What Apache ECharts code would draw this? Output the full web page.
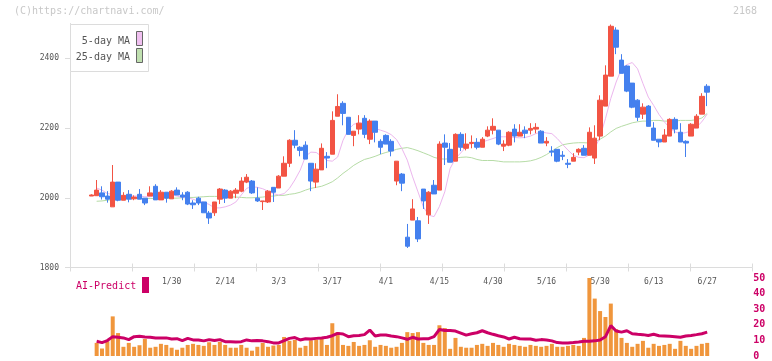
<!DOCTYPE html>
<html><head><meta charset="utf-8">
<script src="https://cdn.jsdelivr.net/npm/echarts@6/dist/echarts.min.js"></script>
<style>html,body{margin:0;padding:0;background:#fff}#c{width:772px;height:361px}</style>
</head><body><div id="c"></div>
<script>
const dates = ['1/8','1/9','1/10','1/14','1/15','1/16','1/17','1/20','1/21','1/22','1/23','1/24','1/27','1/28','1/29','1/30','1/31','2/3','2/4','2/5','2/6','2/7','2/10','2/12','2/13','2/14','2/17','2/18','2/19','2/20','2/21','2/25','2/26','2/27','2/28','3/3','3/4','3/5','3/6','3/7','3/10','3/11','3/12','3/13','3/14','3/17','3/18','3/19','3/21','3/24','3/25','3/26','3/27','3/28','3/31','4/1','4/2','4/3','4/4','4/7','4/8','4/9','4/10','4/11','4/14','4/15','4/16','4/17','4/18','4/21','4/22','4/23','4/24','4/25','4/28','4/30','5/1','5/2','5/7','5/8','5/9','5/12','5/13','5/14','5/15','5/16','5/19','5/20','5/21','5/22','5/23','5/26','5/27','5/28','5/29','5/30','6/2','6/3','6/4','6/5','6/6','6/9','6/10','6/11','6/12','6/13','6/16','6/17','6/18','6/19','6/20','6/23','6/24','6/25','6/26','6/27'];
const openP = [2005,2006,2014,2005,1974,2045,1993,2010,1997,2010,1999,2005,2033,1994,2016,1997,2022,2008,2016,1985,1999,1988,1956,1957,1996,2022,1999,2013,2019,2045,2048,1999,1989,1988,2030,2028,2062,2099,2165,2145,2151,2099,2045,2080,2119,2125,2234,2271,2231,2179,2197,2228,2168,2220,2162,2179,2162,2048,2068,1887,1936,1934,2025,1951,2036,2022,2157,2139,2105,2182,2142,2156,2159,2145,2177,2194,2194,2148,2151,2197,2177,2194,2194,2197,2191,2157,2134,2139,2122,2099,2105,2131,2142,2122,2114,2177,2263,2349,2481,2395,2378,2329,2280,2240,2263,2200,2168,2160,2177,2225,2188,2162,2177,2200,2240,2320];
const closeP = [2008,2022,2003,1996,2045,1993,2007,1996,2002,1996,1985,2014,1994,2016,1999,2019,2008,2002,1982,1980,1985,1957,1942,1988,2025,1999,2019,2022,2048,2059,2014,1991,1991,2019,2016,2062,2099,2165,2151,2136,2111,2048,2082,2142,2114,2222,2262,2242,2182,2191,2214,2182,2220,2188,2145,2154,2134,2105,2042,1861,1968,1882,1991,2016,2011,2154,2145,2102,2182,2145,2154,2159,2145,2168,2194,2205,2154,2154,2188,2177,2188,2185,2199,2202,2157,2162,2131,2105,2119,2096,2116,2139,2122,2188,2171,2280,2352,2492,2432,2357,2306,2260,2231,2260,2205,2165,2160,2180,2225,2197,2160,2157,2211,2234,2291,2303];
const lowP = [2005,2006,1995,1986,1974,1990,1993,1987,1993,1996,1979,2005,1994,1994,1986,1997,2008,1993,1979,1968,1979,1957,1925,1948,1982,1985,1999,1999,2016,2042,2011,1988,1965,1985,1988,2028,2062,2088,2142,2119,2111,2019,2028,2080,2085,2125,2234,2208,2182,2148,2182,2171,2154,2159,2125,2154,2119,2036,2019,1856,1936,1873,1968,1925,2011,2022,2094,2102,2105,2134,2136,2142,2139,2145,2174,2182,2151,2134,2148,2159,2177,2171,2182,2185,2157,2148,2119,2102,2108,2085,2105,2122,2122,2122,2097,2165,2263,2349,2412,2357,2303,2257,2220,2226,2205,2165,2145,2160,2177,2185,2160,2117,2177,2200,2240,2263];
const highP = [2010,2051,2033,2019,2094,2045,2016,2022,2007,2025,1999,2033,2039,2022,2016,2022,2030,2016,2019,1993,2003,1988,1962,1988,2028,2025,2022,2028,2059,2068,2051,2030,1991,2022,2030,2065,2119,2168,2194,2148,2162,2099,2099,2156,2131,2248,2297,2277,2231,2191,2237,2237,2225,2220,2168,2182,2168,2105,2071,1925,1996,1945,2025,2019,2051,2162,2182,2157,2185,2188,2185,2179,2171,2174,2205,2228,2194,2165,2191,2211,2211,2205,2214,2214,2194,2174,2148,2139,2134,2111,2128,2142,2151,2202,2208,2294,2380,2497,2489,2412,2380,2329,2283,2271,2266,2217,2168,2197,2228,2231,2214,2165,2214,2240,2300,2326];
const ma5 = [null,2028,2022,2012,2010,2008,2006,2005,2005,2005,2003,2003,2005,2008,2008,2008,2005,2001,2000,1996,1990,1987,1981,1971,1971,1974,1979,1988,2008,2027,2032,2030,2026,2019,2012,2008,2012,2027,2051,2079,2119,2131,2130,2119,2107,2105,2117,2165,2196,2211,2215,2214,2210,2199,2194,2189,2181,2167,2141,2108,2060,2017,1974,1950,1946,1975,2017,2084,2113,2129,2146,2156,2159,2160,2165,2170,2175,2175,2175,2173,2172,2173,2177,2184,2189,2186,2184,2170,2153,2137,2122,2116,2115,2123,2141,2175,2227,2285,2332,2370,2382,2388,2370,2328,2289,2265,2239,2218,2200,2189,2184,2187,2192,2203,2218,2240];
const ma25 = [null,1990,1991,1993,1995,1996,1997,1998,1998,1998,1998,1998,1998,1999,1999,1999,1999,2000,2001,2001,2002,2003,2004,2004,2004,2003,2003,2002,2001,2000,2000,2001,2002,2004,2005,2007,2007,2010,2012,2016,2022,2027,2030,2033,2039,2046,2057,2070,2081,2093,2102,2110,2114,2119,2125,2130,2134,2139,2142,2144,2140,2135,2129,2123,2116,2112,2111,2112,2114,2116,2117,2115,2110,2107,2107,2107,2105,2103,2103,2103,2103,2104,2106,2110,2116,2124,2134,2144,2152,2155,2157,2158,2158,2157,2161,2168,2177,2189,2199,2205,2210,2215,2218,2220,2220,2222,2222,2220,2220,2220,2222,2222,2222,2224,2229,2242];
const volume = [null,8.4,4.8,9.5,25.4,14.7,5.9,8.4,5.9,6.9,10.9,5.3,5.9,7.8,7.1,5.3,4.0,5.3,7.1,7.8,7.1,6.5,8.8,7.1,9.0,7.1,5.3,5.3,7.1,5.3,3.4,5.9,8.4,5.9,6.7,7.1,12.2,9.7,10.3,5.3,6.5,10.1,10.5,10.9,7.1,21.0,15.3,7.1,6.5,9.0,6.5,7.1,10.1,5.9,7.1,6.5,5.3,5.9,8.4,15.3,14.7,15.3,8.4,7.1,7.1,19.7,17.9,4.6,11.6,5.9,5.3,5.3,7.1,7.8,6.5,8.4,7.1,5.9,7.8,7.1,6.5,5.9,7.1,6.5,5.9,6.5,7.8,5.9,5.9,6.5,7.1,6.5,11.6,50,36.8,28.8,25.0,33.6,17.2,11.6,8.4,5.9,7.8,9.7,5.3,7.8,6.5,7.1,7.8,4.6,9.7,6.5,4.6,6.5,7.8,8.4];
const aiPredict = [null,9.5,8.6,9.9,12.4,12.0,11.6,10.5,12.4,12.6,12.2,12.0,11.6,11.6,11.6,10.9,11.1,9.9,11.3,10.3,10.3,9.7,10.5,9.9,10.5,9.2,9.2,9.0,9.2,10.3,9.7,9.9,9.7,9.2,8.4,8.4,9.9,11.3,11.8,10.3,11.1,10.9,11.3,11.6,12.0,13.0,14.5,14.1,12.4,13.0,13.2,13.7,16.6,12.8,13.4,13.4,12.8,12.4,11.6,10.7,12.0,10.9,11.1,11.1,12.4,17.0,16.4,16.4,16.0,14.7,13.4,14.3,14.9,16.2,14.9,13.9,13.0,12.2,10.9,12.0,11.1,10.9,10.9,10.1,10.5,10.3,9.7,8.6,8.4,8.4,8.6,9.0,9.5,9.5,9.7,10.3,12.4,19.5,16.0,15.3,16.2,14.3,13.9,13.7,13.2,13.9,13.0,12.8,12.6,12.4,12.0,12.8,13.2,13.7,14.3,15.3];
const priceTicks = [1800,2000,2200,2400];
const volumeTicks = [0,10,20,30,40,50];
const labelStart = 15, labelStep = 10;

const MONO = '"DejaVu Sans Mono", "Liberation Mono", monospace';
const AXIS_GRAY = '#dcdcdc';
const candles = dates.map((d,i)=>[openP[i], closeP[i], lowP[i], highP[i]]);

const chart = echarts.init(document.getElementById('c'), null, {renderer:'canvas'});
chart.setOption({
  animation: false,
  backgroundColor: '#fff',
  grid: [
    {left: 91.3, right: 64.8, top: 23.5, bottom: 93.5},
    {left: 91.3, right: 64.8, top: 278, bottom: 3},
    {left: 70, right: 20, top: 263.5, height: 4}
  ],
  xAxis: [
    {type:'category', gridIndex:0, data: dates, boundaryGap:false,
     axisLine:{show:false}, axisTick:{show:false}, splitLine:{show:false},
     axisLabel:{interval:(i)=> i>=labelStart && (i-labelStart)%labelStep===0, margin:10,
       fontFamily:MONO, fontSize:8, color:'#555'}},
    {type:'category', gridIndex:1, data: dates, boundaryGap:false, show:false},
    {type:'value', gridIndex:2, min:0, max:11, interval:1,
     axisLine:{show:true, lineStyle:{color:AXIS_GRAY, width:1}},
     axisTick:{show:true, inside:false, length:4, lineStyle:{color:AXIS_GRAY}},
     splitLine:{show:true, lineStyle:{color:AXIS_GRAY, width:1}},
     axisLabel:{show:false}}
  ],
  yAxis: [
    {type:'value', gridIndex:0, min:1800, max:2500, interval:100, position:'left', offset:21.3,
     axisLine:{show:true, lineStyle:{color:AXIS_GRAY, width:1}},
     axisTick:{show:true, length:5, customValues: priceTicks, lineStyle:{color:AXIS_GRAY}},
     splitLine:{show:false},
     axisLabel:{customValues: priceTicks, formatter:(v)=>String(v), margin:11, fontFamily:MONO, fontSize:8, color:'#555'}},
    {type:'value', gridIndex:1, min:0, max:50, interval:10, position:'right', offset:38,
     axisLine:{show:false}, axisTick:{show:false}, splitLine:{show:false},
     axisLabel:{customValues: volumeTicks, formatter:(v)=>String(v), margin:8, fontFamily:MONO, fontSize:10, fontWeight:'bold', color:'#cc0066'}},
    {type:'value', gridIndex:2, show:false}
  ],
  series: [
    {type:'bar', xAxisIndex:1, yAxisIndex:1, data: volume, barWidth:4,
     itemStyle:{color:'#f0963c'}, silent:true},
    {type:'line', xAxisIndex:1, yAxisIndex:1, data: aiPredict, symbol:'none',
     lineStyle:{color:'#cc0066', width:3}, silent:true},
    {type:'line', xAxisIndex:0, yAxisIndex:0, data: ma25, symbol:'none', smooth:false,
     lineStyle:{color:'#b6dca6', width:1}, silent:true, z:1},
    {type:'line', xAxisIndex:0, yAxisIndex:0, data: ma5, symbol:'none', smooth:false,
     lineStyle:{color:'#ecb6ee', width:1}, silent:true, z:1},
    {type:'candlestick', xAxisIndex:0, yAxisIndex:0, data: candles, barWidth:5, clip:false, z:3,
     itemStyle:{color:'#f25444', color0:'#4480ee', borderColor:'#f25444', borderColor0:'#4480ee', borderWidth:1}}
  ],
  graphic: [
    {type:'text', left:14, top:6, style:{text:'(C)https://chartnavi.com/', font:'10px '+MONO, fill:'#c8c8c8'}},
    {type:'text', right:15, top:6, style:{text:'2168', font:'10px '+MONO, fill:'#c8c8c8'}},
    {type:'rect', shape:{x:70.5, y:24.5, width:78, height:47}, style:{fill:'#fff', stroke:'#dcdcdc', lineWidth:1}, z:10},
    {type:'text', x:130, y:41, style:{text:'5-day MA', font:'10px '+MONO, fill:'#555', align:'right', verticalAlign:'middle'}, z:11},
    {type:'text', x:130, y:57, style:{text:'25-day MA', font:'10px '+MONO, fill:'#555', align:'right', verticalAlign:'middle'}, z:11},
    {type:'rect', shape:{x:136.5, y:31.5, width:6, height:14}, style:{fill:'#f0c0f0', stroke:'#666', lineWidth:1}, z:11},
    {type:'rect', shape:{x:136.5, y:48.5, width:6, height:14}, style:{fill:'#c0e0b0', stroke:'#666', lineWidth:1}, z:11},
    {type:'text', x:76, y:286, style:{text:'AI-Predict', font:'10px '+MONO, fill:'#cc0066', verticalAlign:'middle'}},
    {type:'rect', shape:{x:142, y:277, width:7, height:16}, style:{fill:'#cc0066'}}
  ]
});
</script></body></html>
